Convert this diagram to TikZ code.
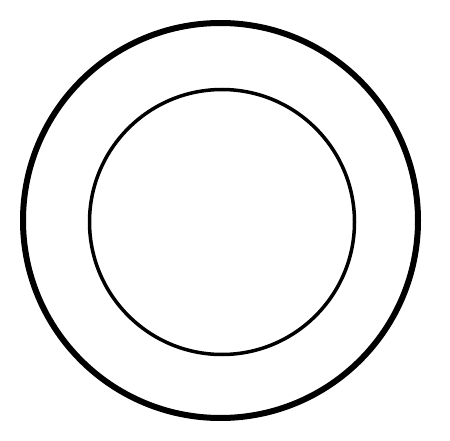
\documentclass[tikz,border=0pt]{standalone}
\begin{document}
\begin{tikzpicture}[x=1pt, y=1pt,
                    draw=black,
                    line cap=round,
                    ]
    \tikzstyle{rim}=[circle, draw, line width=6pt, minimum size=395pt, inner sep=0pt]
    \tikzstyle{well}=[rim, line width=3.5pt, minimum size=265pt]

    \useasboundingbox (0,0) rectangle (450,440);

    \node[rim] (plate) at (220.5,219.5) {};
    \node[well] (center) at (222,218) {};
\end{tikzpicture}
\end{document}
